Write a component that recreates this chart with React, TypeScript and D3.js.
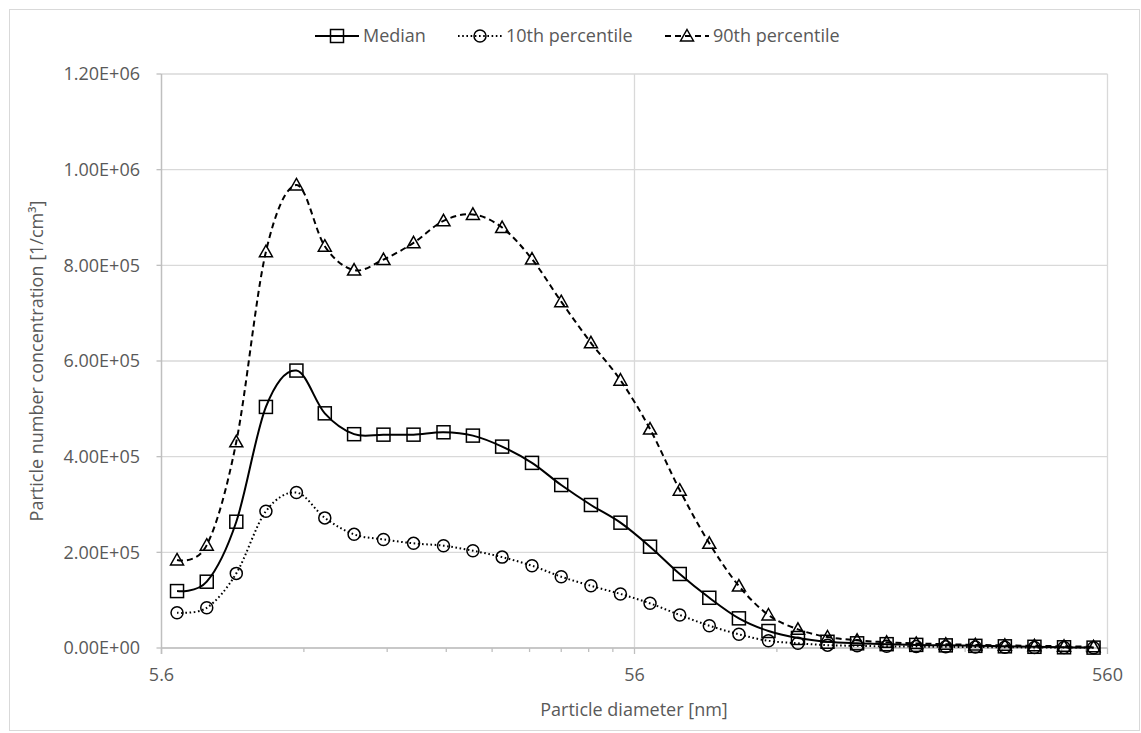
import React from "react";
import * as d3 from "d3";

const diameters = [6.04, 6.98, 8.06, 9.31, 10.8, 12.4, 14.3, 16.5, 19.1, 22.1, 25.5, 29.4, 34.0, 39.2, 45.3, 52.3, 60.4, 69.8, 80.6, 93.1, 107.5, 124.1, 143.3, 165.5, 191.1, 220.7, 254.8, 294.3, 339.8, 392.4, 453.2, 523.3];

const median = [119000, 138600, 264000, 504000, 580000, 490600, 447000, 446000, 446000, 451000, 444000, 421000, 387000, 340700, 299000, 262000, 211800, 154700, 105000, 62000, 35500, 21000, 13000, 9800, 8000, 6500, 5500, 4500, 3500, 2500, 1500, 800];
const p10 = [73800, 84000, 156000, 286000, 325000, 272000, 237600, 227000, 218800, 213900, 203400, 190000, 172000, 149000, 130000, 113000, 93400, 69000, 46600, 28600, 15000, 9800, 6000, 4500, 3500, 3000, 2500, 2000, 1500, 1200, 1000, 700];
const p90 = [184000, 215000, 431000, 828500, 968000, 840000, 790000, 812000, 847000, 893000, 906500, 879000, 813000, 724000, 638000, 560000, 457700, 330000, 218800, 129600, 69000, 39000, 23000, 16000, 12000, 9500, 8000, 6500, 5500, 4500, 3500, 2500];

const yTicks = [0, 200000, 400000, 600000, 800000, 1000000, 1200000];
const xMajor = [5.6, 56, 560];
const xTickLabels = ["5.6", "56", "560"];
const seriesNames = ["Median", "10th percentile", "90th percentile"];

const W = 1141;
const H = 733;
const FONT = "'Open Sans', 'Segoe UI', sans-serif";
const FS = 18;
const TXT = "#595959";
const GRID = "#d9d9d9";
const AXIS = "#bfbfbf";

const x = d3.scaleLog().domain([5.6, 560]).range([161.5, 1107.5]);
const y = d3.scaleLinear().domain([0, 1200000]).range([648, 74]);

const fmtY = (v: number) => {
  const e = v === 0 ? 0 : Math.floor(Math.log10(v));
  const m = v / Math.pow(10, e);
  return `${m.toFixed(2)}E+${String(e).padStart(2, "0")}`;
};

const minorTicks: number[] = [];
for (let dec = 0; dec < 2; dec++) {
  for (let k = 2; k <= 9; k++) minorTicks.push(5.6 * Math.pow(10, dec) * k);
}

type MarkerKind = "square" | "circle" | "triangle";

function Marker({ kind, cx, cy }: { kind: MarkerKind; cx: number; cy: number }) {
  const common = { fill: "none", stroke: "#000", strokeWidth: 1.5 };
  if (kind === "square") return <rect x={cx - 6.5} y={cy - 6.5} width={13} height={13} {...common} />;
  if (kind === "circle") return <circle cx={cx} cy={cy} r={6} {...common} />;
  return <path d={`M${cx},${cy - 6.5}L${cx + 6.5},${cy + 5}L${cx - 6.5},${cy + 5}Z`} {...common} />;
}

const series = [
  { name: seriesNames[0], values: median, kind: "square" as MarkerKind, dash: "none" },
  { name: seriesNames[1], values: p10, kind: "circle" as MarkerKind, dash: "1.6,2.6" },
  { name: seriesNames[2], values: p90, kind: "triangle" as MarkerKind, dash: "6,4" },
];

// legend layout
const SAMPLE = 44;
const TGAP = 4;
const IGAP = 33;
const legendTextW = seriesNames.map((n) => (n === "Median" ? 62 : 126));
const legendTotal = series.length * (SAMPLE + TGAP) + legendTextW.reduce((a, b) => a + b, 0) + (series.length - 1) * IGAP;
const legendX: number[] = [];
{
  let cx = 577 - legendTotal / 2;
  for (let i = 0; i < series.length; i++) {
    legendX.push(cx);
    cx += SAMPLE + TGAP + legendTextW[i] + IGAP;
  }
}

export default function App() {
  const line = d3
    .line<number>()
    .x((_, i) => x(diameters[i]))
    .y((v) => y(v))
    .curve(d3.curveCardinal.tension(0));

  const legendY = 36;

  return (
    <svg width={W} height={H} style={{ position: "absolute", left: 0, top: 0, background: "#fff" }} fontFamily={FONT}>
      <rect x={0} y={0} width={W} height={H} fill="#fff" />
      <rect x={9.5} y={9.5} width={1130} height={721} fill="none" stroke={GRID} strokeWidth={1} />

      {yTicks.map((t) => (
        <line key={"gy" + t} x1={x(5.6)} x2={x(560)} y1={y(t)} y2={y(t)} stroke={GRID} strokeWidth={1.3} />
      ))}
      {xMajor.slice(1).map((t) => (
        <line key={"gx" + t} x1={x(t)} x2={x(t)} y1={y(1200000)} y2={y(0)} stroke={GRID} strokeWidth={1.3} />
      ))}

      <line x1={x(5.6)} x2={x(5.6)} y1={y(1200000)} y2={y(0) + 6} stroke={AXIS} strokeWidth={1.5} />
      <line x1={x(5.6)} x2={x(560)} y1={y(0)} y2={y(0)} stroke={AXIS} strokeWidth={1.5} />
      {yTicks.map((t) => (
        <line key={"ty" + t} x1={x(5.6) - 5} x2={x(5.6)} y1={y(t)} y2={y(t)} stroke={AXIS} strokeWidth={1.3} />
      ))}
      {xMajor.map((t) => (
        <line key={"tx" + t} x1={x(t)} x2={x(t)} y1={y(0)} y2={y(0) + 6} stroke={AXIS} strokeWidth={1.3} />
      ))}
      {minorTicks.map((t) => (
        <line key={"mx" + t} x1={x(t)} x2={x(t)} y1={y(0)} y2={y(0) + 4} stroke={AXIS} strokeWidth={1.3} />
      ))}

      {yTicks.map((t) => (
        <text key={"ly" + t} x={140} y={y(t)} dy="0.35em" textAnchor="end" fontSize={FS} fill={TXT}>
          {fmtY(t)}
        </text>
      ))}
      {xMajor.map((t, i) => (
        <text key={"lx" + t} x={x(t)} y={681} textAnchor="middle" fontSize={FS} fill={TXT}>
          {xTickLabels[i]}
        </text>
      ))}

      <text x={634} y={716} textAnchor="middle" fontSize={FS} fill={TXT}>
        Particle diameter [nm]
      </text>
      <text transform={`translate(43,${(y(0) + y(1200000)) / 2}) rotate(-90)`} textAnchor="middle" fontSize={FS} fill={TXT}>
        Particle number concentration [1/cm³]
      </text>

      {series.map((s) => (
        <g key={s.name}>
          <path d={line(s.values) || ""} fill="none" stroke="#000" strokeWidth={2} strokeDasharray={s.dash} />
          {s.values.map((v, i) => (
            <Marker key={i} kind={s.kind} cx={x(diameters[i])} cy={y(v)} />
          ))}
        </g>
      ))}

      {series.map((s, i) => (
        <g key={"lg" + s.name}>
          <line x1={legendX[i]} x2={legendX[i] + SAMPLE} y1={legendY} y2={legendY} stroke="#000" strokeWidth={2} strokeDasharray={s.dash} />
          <Marker kind={s.kind} cx={legendX[i] + SAMPLE / 2} cy={legendY} />
          <text x={legendX[i] + SAMPLE + TGAP} y={legendY} dy="0.35em" fontSize={FS} fill={TXT}>
            {s.name}
          </text>
        </g>
      ))}
    </svg>
  );
}
